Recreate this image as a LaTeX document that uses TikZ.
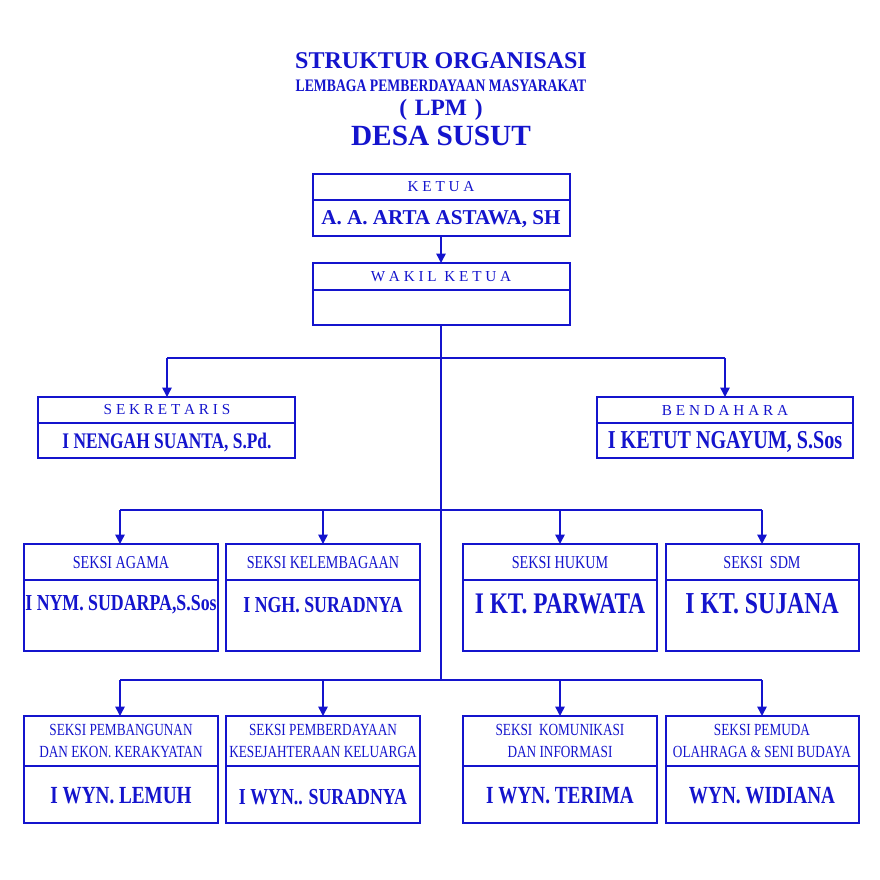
\documentclass[tikz,border=0pt]{standalone}
\usepackage{fontspec}
\setmainfont{Liberation Serif}
\newfontfamily\cond{Liberation Serif}[FakeStretch=0.78]
\usetikzlibrary{arrows.meta}
\definecolor{bl}{RGB}{20,20,205}
\begin{document}
\begin{tikzpicture}[x=0.03cm,y=-0.03cm,
 bx/.style={draw=bl,line width=1.6pt},
 ln/.style={draw=bl,line width=1.3pt},
 ar/.style={ln,-{Triangle[width=8pt,length=8pt]}},
 lab/.style={text=bl,font=\fontsize{13}{14}\selectfont,inner sep=0},
 sec/.style={text=bl,font=\cond\fontsize{15.5}{19.5}\selectfont,align=center,inner sep=0},
 sec2/.style={text=bl,font=\cond\fontsize{14.5}{19.5}\selectfont,align=center,inner sep=0},
 nm/.style={text=bl,font=\cond\bfseries\fontsize{#1}{24}\selectfont,inner sep=0},
 nm/.default=21,
 nm2/.style={text=bl,font=\bfseries\fontsize{18}{22}\selectfont,inner sep=0}]
\useasboundingbox (0,0) rectangle (880,880);
\fill[white] (0,0) rectangle (880,880);
% titles
\node[text=bl,font=\bfseries\fontsize{20.5}{20}\selectfont] (t1) at (441,61) {STRUKTUR ORGANISASI};
\node[text=bl,font=\cond\bfseries\fontsize{15}{16}\selectfont] (t2) at (441,86) {LEMBAGA PEMBERDAYAAN MASYARAKAT};
\node[text=bl,font=\bfseries\fontsize{20}{20}\selectfont] (t3) at (441,110) {(\,\,LPM\,\,)};
\node[text=bl,font=\bfseries\fontsize{25}{24}\selectfont] (t4) at (441,136) {DESA SUSUT};
% ketua
\draw[bx] (313,174) rectangle (570,236); \draw[bx] (313,200)--(570,200);
\node[lab] (k1) at (441,187) {K E T U A};
\node[nm2] (k2) at (441,219) {A. A. ARTA ASTAWA, SH};
\coordinate (kb) at (441,236);
% wakil
\draw[bx] (313,263) rectangle (570,325); \draw[bx] (313,290)--(570,290);
\node[lab] (w1) at (441,277) {W A K I L \ K E T U A};
\coordinate (wt) at (441,263); \coordinate (wb) at (441,325);
\draw[ar] (kb)--(wt);
% sekretaris bendahara
\draw[bx] (38,397) rectangle (295,458); \draw[bx] (38,423)--(295,423);
\node[lab] (s1) at (167,410) {S E K R E T A R I S};
\node[nm=19] (s2) at (167,442) {I NENGAH SUANTA, S.Pd.};
\draw[bx] (597,397) rectangle (853,458); \draw[bx] (597,423)--(853,423);
\node[lab] (b1) at (725,410) {B E N D A H A R A};
\node[nm=22] (b2) at (725,442) {I KETUT NGAYUM, S.Sos};
\coordinate (c1) at (441,358); \coordinate (c2) at (441,510); \coordinate (c3) at (441,680);
\draw[ln] (wb)--(c3);
\draw[ln] (167,358)--(725,358);
\draw[ar] (167,358)--(167,397); \draw[ar] (725,358)--(725,397);
\draw[ln] (120,510)--(762,510); \draw[ln] (120,680)--(762,680);
\foreach \x in {120,323,560,762}{\draw[ar] (\x,510)--(\x,544); \draw[ar] (\x,680)--(\x,716);}
\foreach \a/\b in {24/218,226/420,463/657,666/859}{
 \draw[bx] (\a,544) rectangle (\b,651); \draw[bx] (\a,580)--(\b,580);
 \draw[bx] (\a,716) rectangle (\b,823); \draw[bx] (\a,766)--(\b,766);}
% row 1
\node[sec] (r11) at (121,563) {SEKSI AGAMA};
\node[sec] (r12) at (323,563) {SEKSI KELEMBAGAAN};
\node[sec] (r13) at (560,563) {SEKSI HUKUM};
\node[sec] (r14) at (762,563) {SEKSI \ SDM};
\node[nm=19.5] (n11) at (121,605) {I NYM. SUDARPA,S.Sos};
\node[nm=19.5] (n12) at (323,605) {I NGH. SURADNYA};
\node[nm=25.5] (n13) at (560,604) {I KT. PARWATA};
\node[nm=26] (n14) at (762,604) {I KT. SUJANA};
% row 2
\node[sec2] (r21) at (121,741) {SEKSI PEMBANGUNAN\\DAN EKON. KERAKYATAN};
\node[sec2] (r22) at (323,741) {SEKSI PEMBERDAYAAN\\KESEJAHTERAAN KELUARGA};
\node[sec2] (r23) at (560,741) {SEKSI \ KOMUNIKASI\\DAN INFORMASI};
\node[sec2] (r24) at (762,741) {SEKSI PEMUDA\\OLAHRAGA \& SENI BUDAYA};
\node[nm] (n21) at (121,796) {I WYN. LEMUH};
\node[nm=19.5] (n22) at (323,797) {I WYN.. SURADNYA};
\node[nm] (n23) at (560,796) {I WYN. TERIMA};
\node[nm] (n24) at (762,796) {WYN. WIDIANA};
\end{tikzpicture}
\end{document}
